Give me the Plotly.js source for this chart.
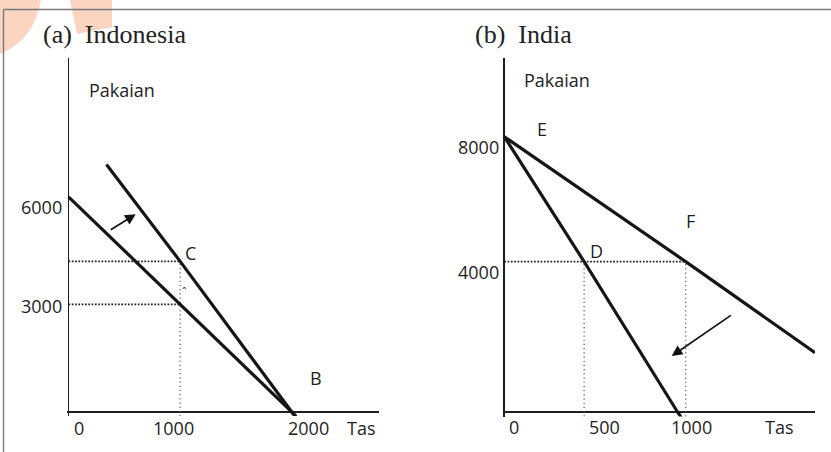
<!DOCTYPE html>
<html>
<head>
<meta charset="utf-8">
<script src="https://cdn.plot.ly/plotly-3.0.1.min.js"></script>
<style>html,body{margin:0;padding:0;background:#fff;}</style>
</head>
<body>
<div id="chart" style="width:831px;height:452px;"></div>
<script>
// ---------------- DATA ----------------
const panelTitles = ['(a)\u00a0 Indonesia', '(b)\u00a0 India'];
const yName = 'Pakaian';
const xName = 'Tas';

// Panel (a) Indonesia
const aXTicks = ['0', '1000', '2000'];
const aYTicks = ['3000', '6000'];
const aPointLabels = ['C', 'B'];
const aPpfX = [0, 2000, 2040];          // original line 6000 pakaian -> 2000 tas
const aPpfY = [6000, 0, -120];
const aTradeX = [340, 1000, 2000, 2030]; // pivoted line through C and B
const aTradeY = [6900, 4200, 0, -126];
const aDotH1X = [0, 1000], aDotH1Y = [4200, 4200];
const aDotH2X = [0, 1000], aDotH2Y = [3000, 3000];
const aDotVX = [1000, 1000], aDotVY = [-120, 4200];
const aArrowX = [365, 602], aArrowY = [5054, 5512];   // [tail, head]

// Panel (b) India
const bXTicks = ['0', '500', '1000'];
const bYTicks = ['4000', '8000'];
const bPointLabels = ['E', 'D', 'F'];
const bTradeX = [0, 1000, 1713];        // line E -> F
const bTradeY = [8000, 4370, 1720];
const bPpfX = [0, 440, 955, 978];       // line E -> D
const bPpfY = [8000, 4370, 0, -183];
const bDotHX = [0, 1000], bDotHY = [4370, 4370];
const bDotV1X = [440, 440], bDotV1Y = [-130, 4370];
const bDotV2X = [1000, 1000], bDotV2Y = [-130, 4370];
const bArrowX = [1257, 923], bArrowY = [2839, 1627];  // [tail, head]

// ---------------- LAYOUT GEOMETRY ----------------
const W = 831, H = 452;
const px = x => x / W;
const py = y => 1 - y / H;

function xAxisGeom(origin, scale, p0, p1) {
  return {domain: [px(p0), px(p1)], range: [(p0 - origin) / scale, (p1 - origin) / scale]};
}
function yAxisGeom(origin, scale, pBottom, pTop) {
  return {domain: [py(pBottom), py(pTop)], range: [(origin - pBottom) / scale, (origin - pTop) / scale]};
}

const axBase = {
  showgrid: false, showline: false, showticklabels: false, ticks: '',
  zeroline: true, zerolinecolor: '#1f1f1f', zerolinewidth: 1.6, fixedrange: true
};

const xa = Object.assign({}, axBase, xAxisGeom(68.5, 0.11164, 67, 379.3), {anchor: 'y'});
const ya = Object.assign({}, axBase, yAxisGeom(412, 0.03587, 416, 58), {anchor: 'x'});
const xb = Object.assign({}, axBase, xAxisGeom(504.3, 0.1814, 503, 815), {anchor: 'y2'});
const yb = Object.assign({}, axBase, yAxisGeom(412, 0.034413, 416.5, 58), {anchor: 'x2'});

// ---------------- STYLES ----------------
const thick = {color: '#161616', width: 3.2};
const hDot = {color: '#1e1e1e', width: 1.7, dash: '1.7px,1.6px'};
const vDot = {color: '#555', width: 1.2, dash: '1.2px,3px'};

function line(x, y, style, xr, yr) {
  return {type: 'scatter', mode: 'lines', x: x, y: y, xaxis: xr, yaxis: yr,
          line: style, hoverinfo: 'skip', showlegend: false};
}

const traces = [
  line(aDotH1X, aDotH1Y, hDot, 'x', 'y'),
  line(aDotH2X, aDotH2Y, hDot, 'x', 'y'),
  line(aDotVX, aDotVY, vDot, 'x', 'y'),
  line(aPpfX, aPpfY, thick, 'x', 'y'),
  line(aTradeX, aTradeY, thick, 'x', 'y'),
  line(bDotHX, bDotHY, hDot, 'x2', 'y2'),
  line(bDotV1X, bDotV1Y, vDot, 'x2', 'y2'),
  line(bDotV2X, bDotV2Y, vDot, 'x2', 'y2'),
  line(bTradeX, bTradeY, thick, 'x2', 'y2'),
  line(bPpfX, bPpfY, thick, 'x2', 'y2')
];

// ---------------- TEXT ----------------
const sans = {family: '"Open Sans", "Noto Sans", sans-serif', size: 18, color: '#1e1e1e'};
const serif = {family: '"Liberation Serif", "DejaVu Serif", serif', size: 26, color: '#222222'};

function txt(text, x, y, xanchor, font) {
  return {text: text, xref: 'paper', yref: 'paper', x: px(x), y: py(y),
          xanchor: xanchor, yanchor: 'middle', showarrow: false, borderpad: 0,
          font: font || sans};
}

const annotations = [
  txt(panelTitles[0], 41.7, 35, 'left', serif),
  txt(panelTitles[1], 474, 35, 'left', serif),
  txt(yName, 88.3, 90, 'left'),
  txt(yName, 523.3, 80.3, 'left'),
  // panel a ticks
  txt(aYTicks[1], 63, 206.7, 'right'),
  txt(aYTicks[0], 63, 306, 'right'),
  txt(aXTicks[0], 78.5, 427.5, 'center'),
  txt(aXTicks[1], 173.5, 427.5, 'center'),
  txt(aXTicks[2], 308.5, 427.5, 'center'),
  txt(xName, 361.5, 427.5, 'center'),
  txt(aPointLabels[0], 190.7, 252.5, 'center'),
  txt(aPointLabels[1], 316, 378, 'center'),
  txt('\u02c6', 184, 291, 'center', {family: sans.family, size: 11, color: '#1e1e1e'}),
  // panel b ticks
  txt(bYTicks[1], 499.5, 146.7, 'right'),
  txt(bYTicks[0], 499.5, 271.7, 'right'),
  txt(bXTicks[0], 513.8, 426.7, 'center'),
  txt(bXTicks[1], 604.5, 426.7, 'center'),
  txt(bXTicks[2], 691.7, 426.7, 'center'),
  txt(xName, 779.2, 426.7, 'center'),
  txt(bPointLabels[0], 541.7, 129, 'center'),
  txt(bPointLabels[1], 596.8, 251.3, 'center'),
  txt(bPointLabels[2], 690.8, 220.8, 'center'),
  // arrows
  {text: '', xref: 'x', yref: 'y', axref: 'x', ayref: 'y',
   x: aArrowX[1], y: aArrowY[1], ax: aArrowX[0], ay: aArrowY[0],
   showarrow: true, arrowhead: 2, arrowsize: 1.25, arrowwidth: 1.7, arrowcolor: '#111', standoff: 0},
  {text: '', xref: 'x2', yref: 'y2', axref: 'x2', ayref: 'y2',
   x: bArrowX[1], y: bArrowY[1], ax: bArrowX[0], ay: bArrowY[0],
   showarrow: true, arrowhead: 2, arrowsize: 1.25, arrowwidth: 1.7, arrowcolor: '#111', standoff: 0}
];

// ---------------- DECOR (watermark + frame) ----------------
const wm = '#fbd5c1';
function pathPx(cmds) {
  return cmds.map(c => c[0] + (c.length > 1 ? c.slice(1).map((v, i) => (i % 2 === 0 ? px(v) : py(v))).join(',') : '')).join(' ');
}
const shapes = [
  {type: 'path', xref: 'paper', yref: 'paper', layer: 'below', line: {width: 0}, fillcolor: wm,
   path: pathPx([['M', 0, 0], ['L', 41, 0], ['Q', 34, 40, 0, 54], ['Z']])},
  {type: 'path', xref: 'paper', yref: 'paper', layer: 'below', line: {width: 0}, fillcolor: wm,
   path: pathPx([['M', 70, 0], ['L', 112, 0], ['L', 112, 27], ['L', 77, 34], ['Z']])},
  {type: 'line', xref: 'paper', yref: 'paper', x0: px(3.5), y0: py(9.5), x1: 1, y1: py(9.5),
   line: {color: '#7a7a7a', width: 1.4}},
  {type: 'line', xref: 'paper', yref: 'paper', x0: px(3.5), y0: py(9.5), x1: px(3.5), y1: 0,
   line: {color: '#7a7a7a', width: 1.4}}
];

const layout = {
  width: W, height: H,
  margin: {l: 0, r: 0, t: 0, b: 0, pad: 0},
  paper_bgcolor: '#ffffff', plot_bgcolor: 'rgba(0,0,0,0)',
  showlegend: false,
  xaxis: xa, yaxis: ya, xaxis2: xb, yaxis2: yb,
  annotations: annotations,
  shapes: shapes
};

Plotly.newPlot('chart', traces, layout, {staticPlot: true, displayModeBar: false});
</script>
</body>
</html>
